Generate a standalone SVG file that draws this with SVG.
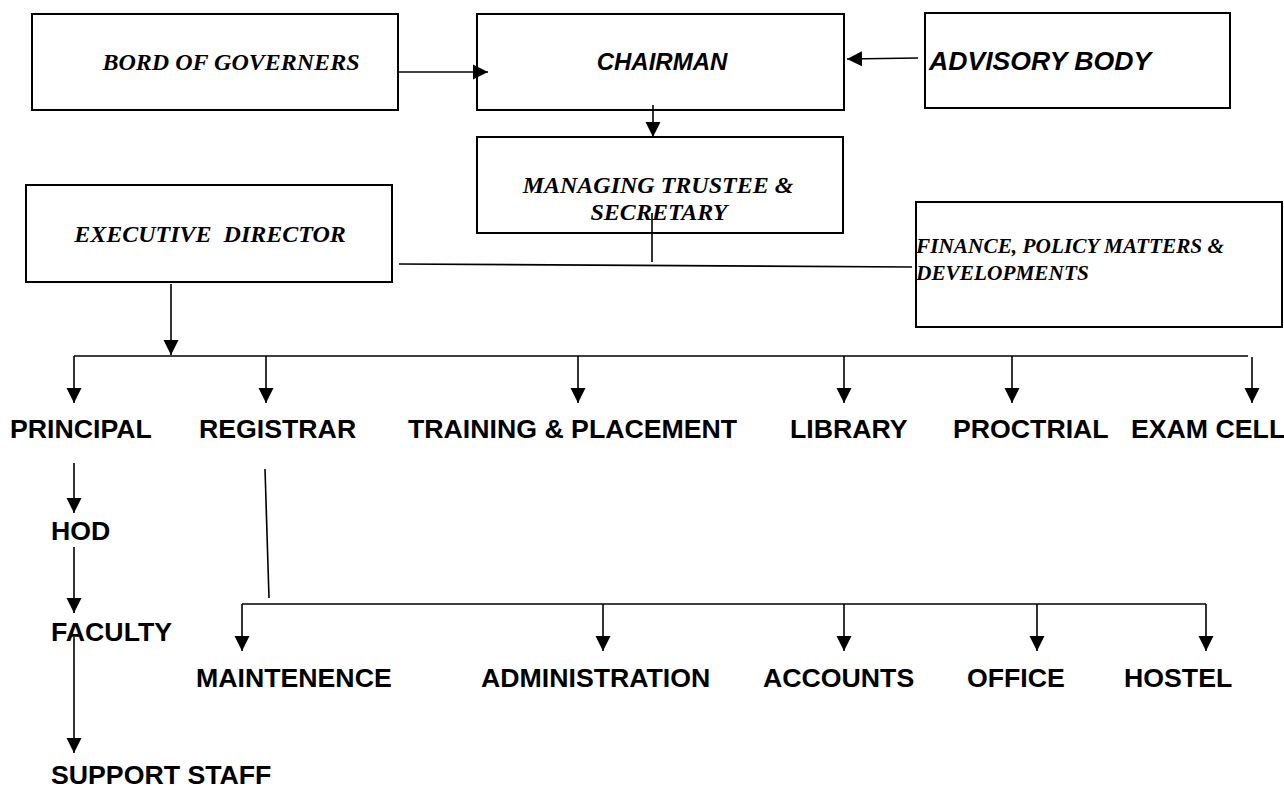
<svg xmlns="http://www.w3.org/2000/svg" width="1284" height="790" viewBox="0 0 1284 790">
<style>
.box{fill:#fff;stroke:#000;stroke-width:2}
.tb{font-family:"Liberation Serif","Times New Roman",serif;font-weight:bold;font-style:italic;fill:#000}
.ab{font-family:"Liberation Sans",Arial,sans-serif;font-weight:bold;font-style:italic;fill:#000}
.lb{font-family:"Liberation Sans",Arial,sans-serif;font-weight:bold;font-size:26.7px;fill:#000}
.ln{fill:none;stroke:#000;stroke-width:1.6}
.ar{fill:none;stroke:#000;stroke-width:1.6;marker-end:url(#ah)}
</style>
<defs>
<marker id="ah" markerUnits="userSpaceOnUse" markerWidth="16" markerHeight="16" viewBox="0 0 16 16" refX="15" refY="8" orient="auto">
<path d="M0,0.5 L15,8 L0,15.5 Z" fill="#000"/>
</marker>
</defs>
<rect width="1284" height="790" fill="#fff"/>
<g id="bog"><rect class="box" x="32" y="14" width="366" height="96"/><text class="tb" x="231" y="70" font-size="24" text-anchor="middle">BORD OF GOVERNERS</text></g>
<g id="chairman"><rect class="box" x="477" y="14" width="367" height="96"/><text class="ab" x="662" y="70" font-size="24" text-anchor="middle">CHAIRMAN</text></g>
<g id="advisory"><rect class="box" x="925" y="13" width="305" height="95"/><text class="ab" x="929" y="70" font-size="26.6">ADVISORY BODY</text></g>
<g id="trustee"><rect class="box" x="477" y="137" width="366" height="96"/><text class="tb" x="658" y="193" font-size="24" text-anchor="middle">MANAGING TRUSTEE &amp;</text><text class="tb" x="659" y="220" font-size="24" text-anchor="middle">SECRETARY</text></g>
<g id="executive"><rect class="box" x="26" y="185" width="366" height="97"/><text class="tb" x="210" y="242" font-size="24" text-anchor="middle" style="white-space:pre">EXECUTIVE  DIRECTOR</text></g>
<g id="finance"><rect class="box" x="916" y="202" width="366" height="125"/><text class="tb" x="916" y="253" font-size="21.3">FINANCE, POLICY MATTERS &amp;</text><text class="tb" x="916" y="280" font-size="21.3">DEVELOPMENTS</text></g>
<g id="principal"><text class="lb" x="10" y="438">PRINCIPAL</text></g>
<g id="registrar"><text class="lb" x="199" y="438">REGISTRAR</text></g>
<g id="training"><text class="lb" x="408" y="438">TRAINING &amp; PLACEMENT</text></g>
<g id="library"><text class="lb" x="790" y="438">LIBRARY</text></g>
<g id="proctrial"><text class="lb" x="953" y="438">PROCTRIAL</text></g>
<g id="exam"><text class="lb" x="1131" y="438">EXAM CELL</text></g>
<g id="hod"><text class="lb" x="51" y="540">HOD</text></g>
<g id="faculty"><text class="lb" x="51" y="641">FACULTY</text></g>
<g id="support"><text class="lb" x="51" y="784">SUPPORT STAFF</text></g>
<g id="maint"><text class="lb" x="196" y="687">MAINTENENCE</text></g>
<g id="admin"><text class="lb" x="481" y="687">ADMINISTRATION</text></g>
<g id="accounts"><text class="lb" x="763" y="687">ACCOUNTS</text></g>
<g id="office"><text class="lb" x="967" y="687">OFFICE</text></g>
<g id="hostel"><text class="lb" x="1124" y="687">HOSTEL</text></g>
<g id="connectors">
<line class="ar" x1="398" y1="72" x2="488" y2="72"/>
<line class="ar" x1="918" y1="58" x2="847" y2="59"/>
<line class="ar" x1="653" y1="105" x2="653" y2="137"/>
<line class="ln" x1="652" y1="213" x2="652" y2="262"/>
<line class="ln" x1="399" y1="264" x2="912" y2="267"/>
<line class="ar" x1="171" y1="284" x2="171" y2="355"/>
<line class="ln" x1="74" y1="356" x2="1248" y2="356"/>
<line class="ar" x1="74" y1="356" x2="74" y2="403"/>
<line class="ar" x1="266" y1="356" x2="266" y2="403"/>
<line class="ar" x1="578" y1="356" x2="578" y2="403"/>
<line class="ar" x1="844" y1="356" x2="844" y2="403"/>
<line class="ar" x1="1012" y1="356" x2="1012" y2="403"/>
<line class="ar" x1="1252" y1="357" x2="1252" y2="403"/>
<line class="ar" x1="74" y1="463" x2="74" y2="513"/>
<line class="ar" x1="74" y1="547" x2="74" y2="613"/>
<line class="ar" x1="74" y1="637" x2="74" y2="753"/>
<line class="ln" x1="265" y1="469" x2="269" y2="598"/>
<line class="ln" x1="242" y1="604" x2="1206" y2="604"/>
<line class="ar" x1="242" y1="604" x2="242" y2="651"/>
<line class="ar" x1="603" y1="604" x2="603" y2="651"/>
<line class="ar" x1="844" y1="604" x2="844" y2="651"/>
<line class="ar" x1="1037" y1="604" x2="1037" y2="651"/>
<line class="ar" x1="1206" y1="604" x2="1206" y2="651"/>
</g>
</svg>
